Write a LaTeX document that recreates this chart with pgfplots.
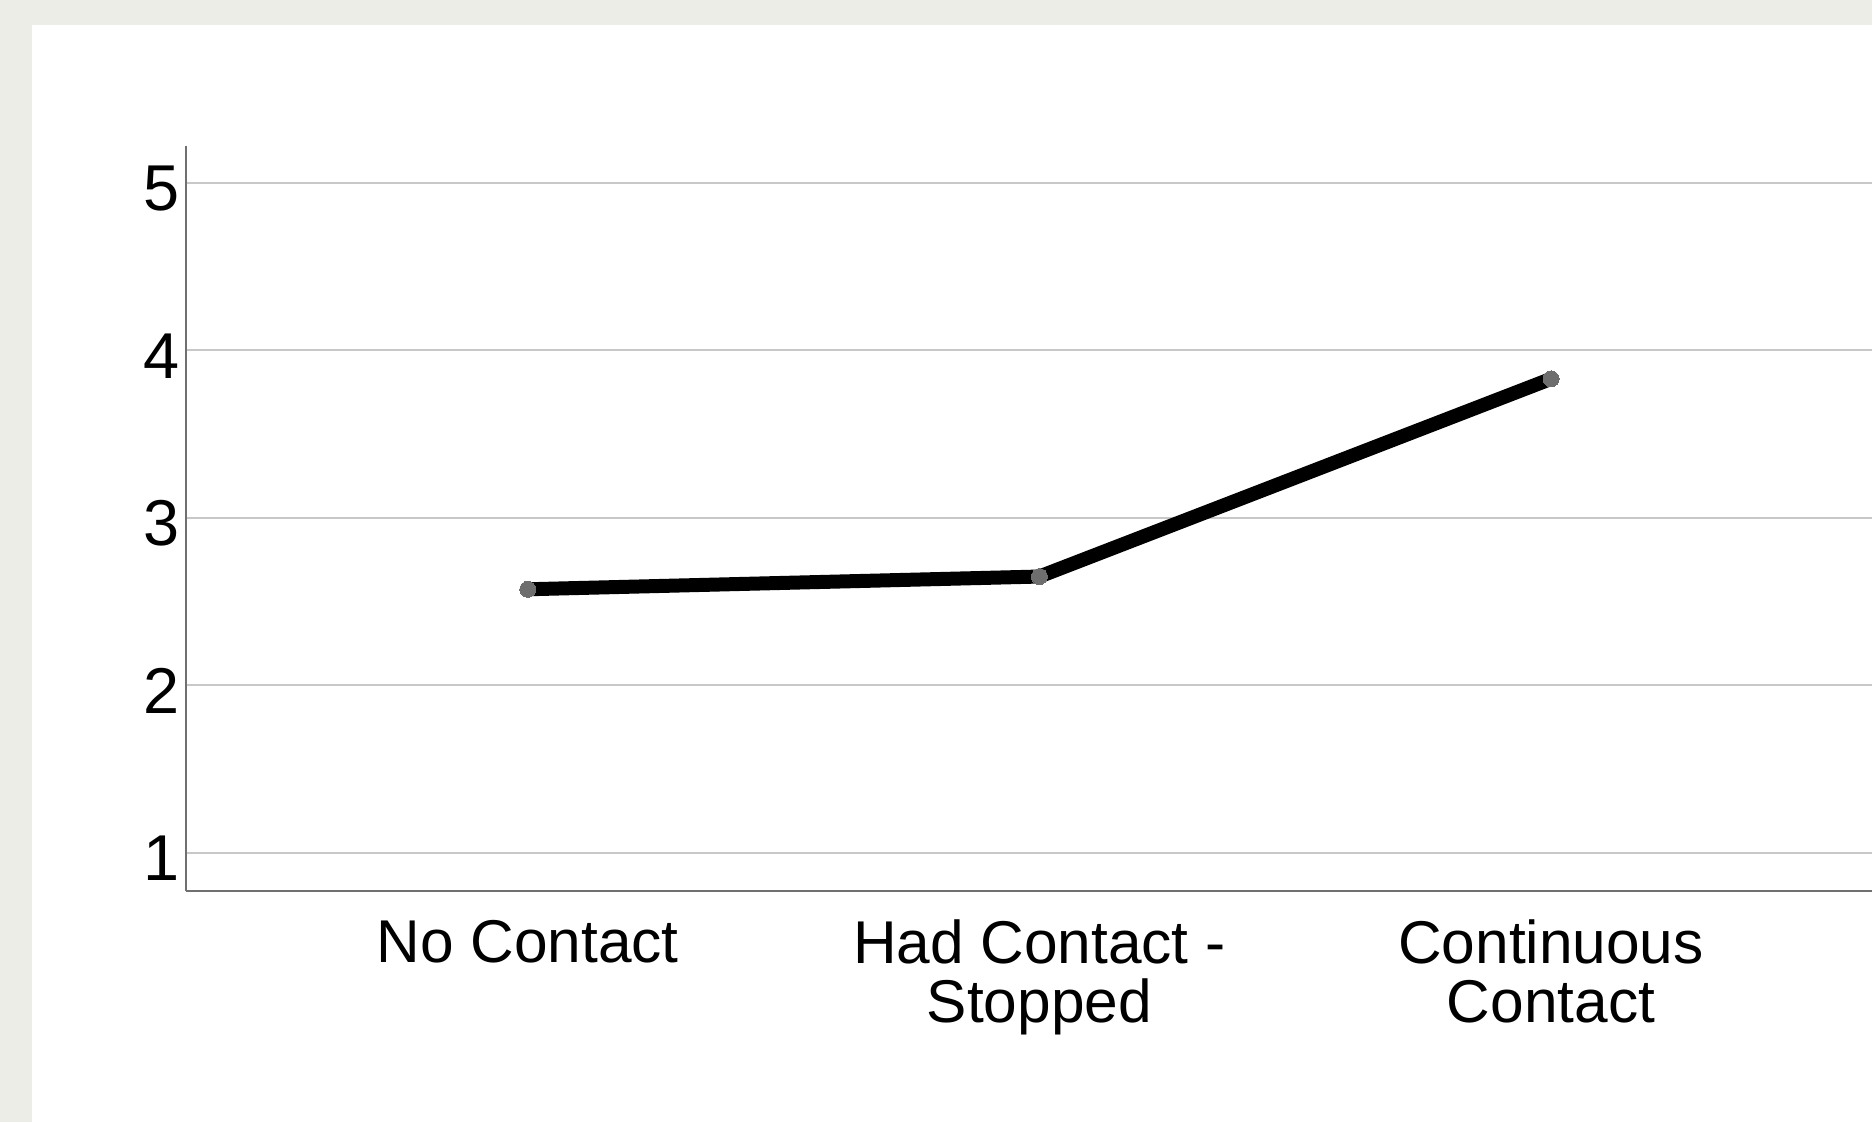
\documentclass[border=0pt]{standalone}
\usepackage{pgfplots}
\pgfplotsset{compat=1.18}
\usepackage{fontspec}
\setmainfont{Liberation Sans}
\definecolor{paper}{HTML}{EDEDE8}
\definecolor{axisgray}{HTML}{707070}
\definecolor{gridgray}{HTML}{C8C8C8}
\definecolor{markgray}{HTML}{6E6E6E}
\begin{document}
\begin{tikzpicture}
\useasboundingbox (0,0) rectangle (468pt,280.5pt);
\clip (0,0) rectangle (468pt,280.5pt);
\fill[paper] (0,0) rectangle (468pt,280.5pt);
\fill[white] (8pt,0) rectangle (468pt,274.25pt);
\begin{axis}[
  at={(46.5pt,57.75pt)}, anchor=south west,
  scale only axis, width=426.7pt, height=186.25pt,
  xmin=-0.668, xmax=2.668, ymin=0.773, ymax=5.22,
  axis lines*=left,
  axis line style={axisgray, line width=0.5pt},
  xtick={0,1,2},
  xticklabels={No Contact,{Had Contact -\\Stopped},{Continuous\\Contact}},
  ytick={1,2,3,4,5},
  major tick length=0pt,
  ymajorgrids,
  grid style={gridgray, line width=0.5pt},
  xticklabel style={font=\fontsize{15.1}{14.6}\selectfont, text=black, align=center, yshift=-3.7pt},
  yticklabel style={font=\fontsize{16.2}{16}\selectfont, text=black, xshift=1.8pt, yshift=-1.4pt},
  /pgf/number format/assume math mode=true,
  clip=false,
]
\addplot[black, line width=3.5pt, line join=round, mark=*, mark size=2pt,
  mark options={solid, fill=markgray, draw=markgray, line width=0pt}] coordinates {
  (0,2.574) (1,2.65) (2,3.83)
};
\end{axis}
\end{tikzpicture}
\end{document}
